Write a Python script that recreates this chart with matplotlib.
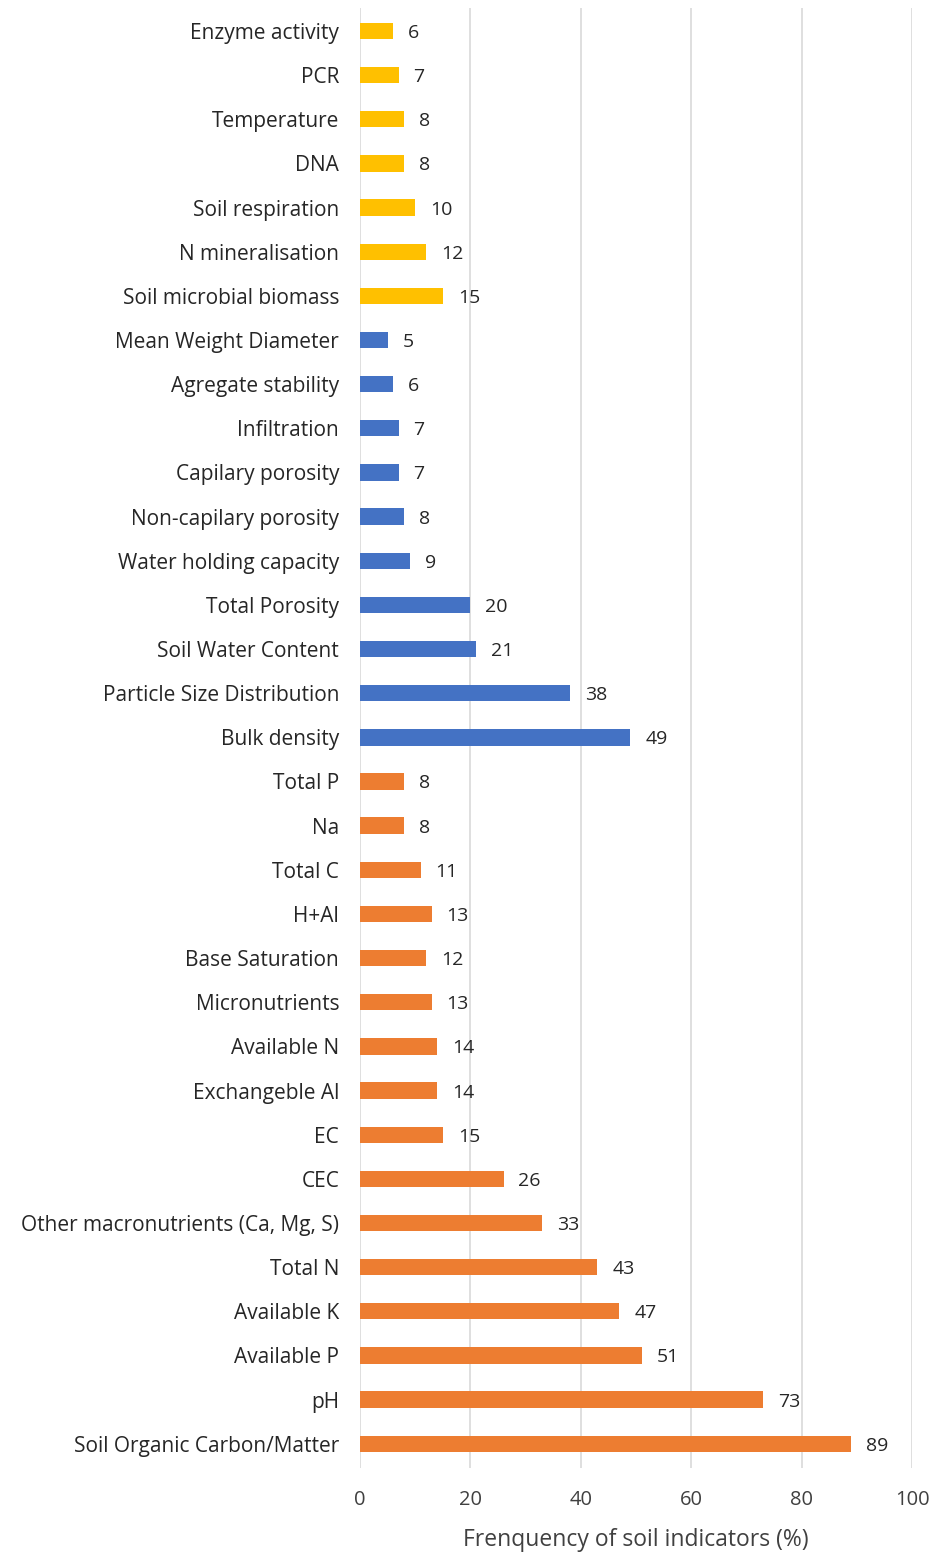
import numpy as np
import matplotlib.pyplot as plt

plt.rcParams['font.family'] = ['Open Sans', 'DejaVu Sans']

# biological indicators
bio_names = ['Enzyme activity', 'PCR', 'Temperature', 'DNA', 'Soil respiration',
             'N mineralisation', 'Soil microbial biomass']
bio_vals = [6, 7, 8, 8, 10, 12, 15]

# physical indicators
phys_names = ['Mean Weight Diameter', 'Agregate stability', 'Infiltration',
              'Capilary porosity', 'Non-capilary porosity', 'Water holding capacity',
              'Total Porosity', 'Soil Water Content', 'Particle Size Distribution',
              'Bulk density']
phys_vals = [5, 6, 7, 7, 8, 9, 20, 21, 38, 49]

# chemical indicators
chem_names = ['Total P', 'Na', 'Total C', 'H+Al', 'Base Saturation', 'Micronutrients',
              'Available N', 'Exchangeble Al', 'EC', 'CEC',
              'Other macronutrients (Ca, Mg, S)', 'Total N', 'Available K',
              'Available P', 'pH', 'Soil Organic Carbon/Matter']
chem_vals = [8, 8, 11, 13, 12, 13, 14, 14, 15, 26, 33, 43, 47, 51, 73, 89]

names = bio_names + phys_names + chem_names
vals = bio_vals + phys_vals + chem_vals
colors = (['#FFC000'] * len(bio_vals) + ['#4472C4'] * len(phys_vals)
          + ['#ED7D31'] * len(chem_vals))

fig = plt.figure(figsize=(9.34, 15.52), dpi=100)
ax = fig.add_axes([360 / 934, 1 - 1468 / 1552, 552 / 934, (1468 - 8) / 1552])

pos = np.arange(len(vals))
ax.barh(pos, vals, height=0.37, color=colors, zorder=2)
for p, v in zip(pos, vals):
    ax.text(v + 2.7, p, str(v), va='center_baseline', ha='left', fontsize=14,
            color='#262626')

ax.set_ylim(len(vals) - 0.45, -0.52)
ax.set_xlim(0, 100)
ax.set_xticks(np.arange(0, 101, 20))
ax.set_yticks(pos)
ax.set_yticklabels(names, fontsize=15, color='#262626', va='center_baseline')
ax.tick_params(axis='x', labelsize=14.5, colors='#404040', length=0, pad=16)
ax.tick_params(axis='y', length=0, pad=15)
ax.grid(axis='x', color='#d9d9d9', linewidth=1.2, zorder=0)
for s in ax.spines.values():
    s.set_visible(False)
ax.set_xlabel('Frenquency of soil indicators (%)', fontsize=16.5, color='#404040',
              labelpad=13)

plt.savefig('out.png', dpi=100)
